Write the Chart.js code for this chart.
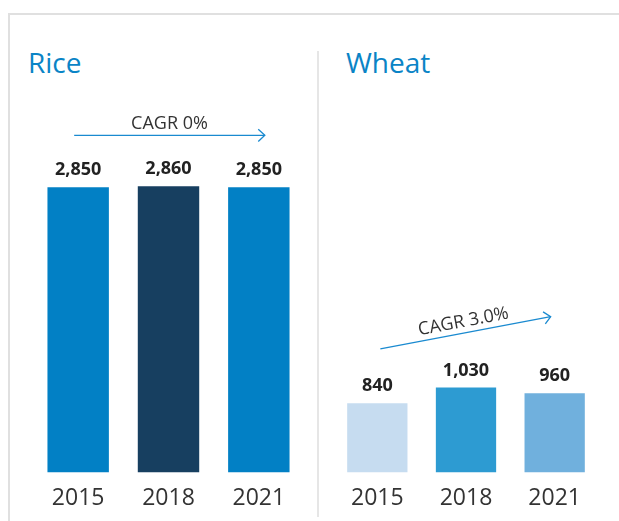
<!DOCTYPE html>
<html>
<head>
<meta charset="utf-8">
<script src="https://cdn.jsdelivr.net/npm/chart.js@4.4.0/dist/chart.umd.min.js"></script>
<style>
  body { margin: 0; background: #fff; font-family: "Open Sans", sans-serif; }
  .card { position: absolute; left: 8px; top: 13px; width: 620px; height: 520px;
          border-top: 2px solid #e0e0e0; border-left: 2px solid #e0e0e0; }
  .divider { position: absolute; left: 317px; top: 51px; width: 2px; height: 466px; background: #e6e6e6; }
  .title { position: absolute; top: 43px; font-size: 28px; line-height: 38px; color: #0a84c6; }
  .box { position: absolute; top: 90px; height: 426px; }
</style>
</head>
<body>
<div class="card"></div>
<div class="divider"></div>
<div class="title" style="left:28px">Rice</div>
<div class="title" style="left:346px">Wheat</div>
<div class="box" style="left:33px; width:271px"><canvas id="riceChart"></canvas></div>
<div class="box" style="left:333px; width:266px"><canvas id="wheatChart"></canvas></div>
<script>
// du lieu
const years = ['2015', '2018', '2021'];
const riceValues = [2850, 2860, 2850];
const wheatValues = [840, 1030, 960];
const riceColors = ['#0280c5', '#173f60', '#0280c5'];
const wheatColors = ['#c6dcf0', '#2d9bd2', '#70b0dd'];
const riceCagr = 'CAGR 0%';
const wheatCagr = 'CAGR 3.0%';

// ve so tren cot
const valueLabels = {
  id: 'valueLabels',
  afterDatasetsDraw(chart) {
    const ctx = chart.ctx;
    const meta = chart.getDatasetMeta(0);
    ctx.save();
    ctx.font = 'bold 18px "Open Sans"';
    ctx.fillStyle = '#222';
    ctx.textAlign = 'center';
    ctx.textBaseline = 'alphabetic';
    meta.data.forEach((bar, i) => {
      ctx.fillText(chart.data.datasets[0].data[i].toLocaleString('en-US'), bar.x, bar.y - 12);
    });
    ctx.restore();
  }
};

// mui ten CAGR
const cagrArrow = {
  id: 'cagrArrow',
  afterDatasetsDraw(chart, args, opts) {
    const ctx = chart.ctx;
    const meta = chart.getDatasetMeta(0);
    const x1 = meta.data[0].x + opts.dx1, x2 = meta.data[2].x + opts.dx2;
    const y1 = chart.scales.y.getPixelForValue(opts.v1);
    const y2 = chart.scales.y.getPixelForValue(opts.v2);
    const ang = Math.atan2(y2 - y1, x2 - x1);
    ctx.save();
    ctx.strokeStyle = '#1a8ad0';
    ctx.lineWidth = 1.3;
    ctx.beginPath();
    ctx.moveTo(x1, y1);
    ctx.lineTo(x2, y2);
    ctx.stroke();
    ctx.beginPath();
    ctx.moveTo(x2 - 9 * Math.cos(ang - 0.75), y2 - 9 * Math.sin(ang - 0.75));
    ctx.lineTo(x2, y2);
    ctx.lineTo(x2 - 9 * Math.cos(ang + 0.75), y2 - 9 * Math.sin(ang + 0.75));
    ctx.stroke();
    ctx.translate((x1 + x2) / 2, (y1 + y2) / 2);
    ctx.rotate(ang);
    ctx.font = '18px "Open Sans"';
    ctx.fillStyle = '#333';
    ctx.textAlign = 'center';
    ctx.textBaseline = 'alphabetic';
    ctx.fillText(opts.text, 0, -6);
    ctx.restore();
  }
};

function makeChart(id, values, colors, yMax, arrow) {
  return new Chart(document.getElementById(id), {
    type: 'bar',
    data: {
      labels: years,
      datasets: [{ data: values, backgroundColor: colors, barPercentage: 0.68, categoryPercentage: 1 }]
    },
    options: {
      responsive: true,
      maintainAspectRatio: false,
      animation: false,
      layout: { padding: 0 },
      plugins: { legend: { display: false }, tooltip: { enabled: false }, cagrArrow: arrow },
      scales: {
        y: { display: false, min: 0, max: yMax },
        x: {
          grid: { display: false },
          border: { display: false },
          ticks: { color: '#333', font: { family: 'Open Sans', size: 23 }, padding: 4 }
        }
      }
    },
    plugins: [valueLabels, cagrArrow]
  });
}

makeChart('riceChart', riceValues, riceColors, 3823,
  { text: riceCagr, v1: 3370, v2: 3370, dx1: -4, dx2: 6 });
makeChart('wheatChart', wheatValues, wheatColors, 4640,
  { text: wheatCagr, v1: 1500, v2: 1890, dx1: 3, dx2: -4 });
</script>
</body>
</html>
